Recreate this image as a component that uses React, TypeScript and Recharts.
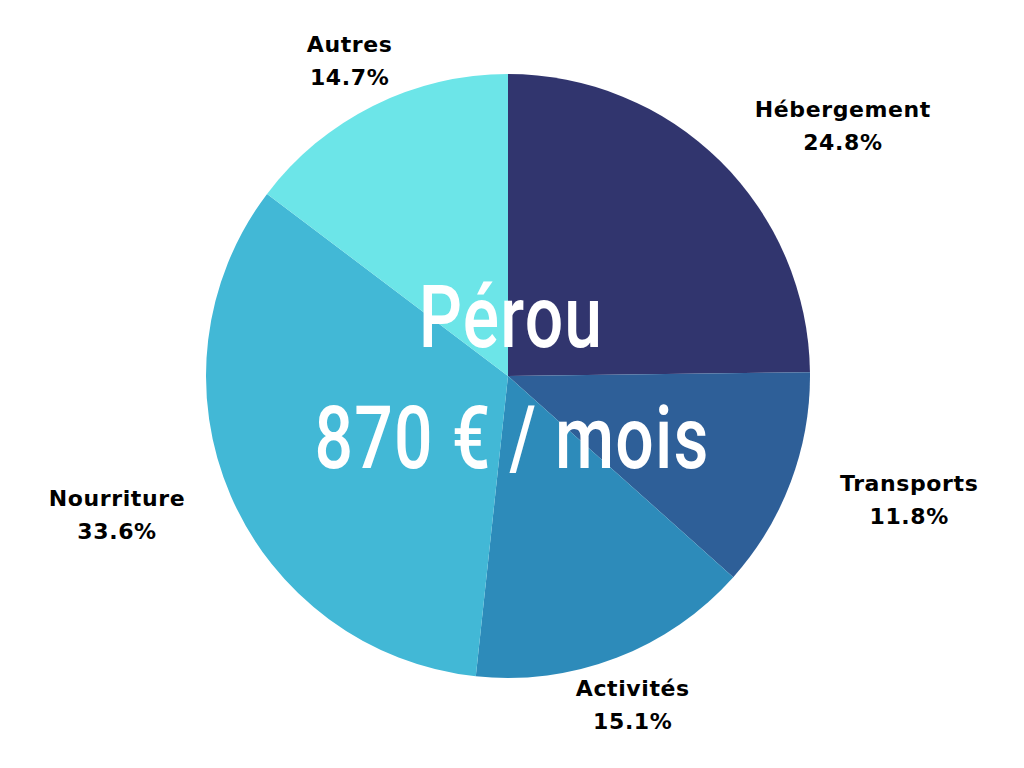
import { PieChart, Pie, Cell } from 'recharts';

const categories = ['Hébergement', 'Transports', 'Activités', 'Nourriture', 'Autres'];
const shares = [24.8, 11.8, 15.1, 33.6, 14.7];
const colors = ['#31356e', '#2e5f98', '#2d8bba', '#42b8d6', '#6ce5e8'];
const title = 'Pérou';
const subtitle = '870 € / mois';

// label placement tweaks (extra radius px, angle shift deg) per slice
const labelShift = [
  [116, -8.6],
  [118, 3.3],
  [50, -0.3],
  [113, -3.8],
  [51, 0.2],
];

const RAD = Math.PI / 180;

function renderLabel(props: any) {
  const { cx, cy, midAngle, outerRadius, index } = props;
  const [dr, da] = labelShift[index];
  const r = outerRadius + dr;
  const a = (midAngle + da) * RAD;
  const x = cx + r * Math.cos(a);
  const y = cy - r * Math.sin(a);
  return (
    <text
      x={x}
      y={y}
      textAnchor="middle"
      fill="#000"
      style={{ fontFamily: 'DejaVu Sans', fontWeight: 700, fontSize: 22, letterSpacing: 0.6 }}
    >
      <tspan x={x} dy={-9}>{categories[index]}</tspan>
      <tspan x={x} dy={33}>{shares[index].toFixed(1)}%</tspan>
    </text>
  );
}

const centerFont = { fontFamily: 'Roboto', fontWeight: 500, fontSize: 87, letterSpacing: 1.5 };

export default function App() {
  const data = categories.map((name, i) => ({ name, value: shares[i] }));

  return (
    <div style={{ position: 'relative', width: 1024, height: 768, background: '#fff' }}>
      <style>{'body{margin:0}'}</style>
      <PieChart width={1024} height={768} margin={{ top: 0, right: 0, bottom: 0, left: 0 }}>
        <Pie
          data={data}
          dataKey="value"
          cx={508}
          cy={376}
          outerRadius={302}
          startAngle={90}
          endAngle={-270}
          stroke="none"
          label={renderLabel}
          labelLine={false}
          isAnimationActive={false}
        >
          {data.map((d, i) => (
            <Cell key={d.name} fill={colors[i]} />
          ))}
        </Pie>
      </PieChart>
      <svg
        width={1024}
        height={768}
        style={{ position: 'absolute', left: 0, top: 0, pointerEvents: 'none' }}
      >
        <text transform="translate(511,347) scale(0.78,1)" textAnchor="middle" fill="#fff" style={centerFont}>
          {title}
        </text>
        <text transform="translate(512,468) scale(0.78,1)" textAnchor="middle" fill="#fff" style={centerFont}>
          {subtitle}
        </text>
      </svg>
    </div>
  );
}
